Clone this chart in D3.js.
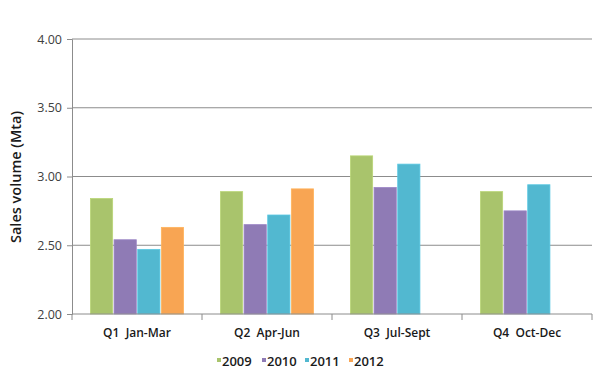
<!DOCTYPE html>
<html>
<head>
<meta charset="utf-8">
<script src="https://cdn.jsdelivr.net/npm/d3@7/dist/d3.min.js"></script>
<style>
  html, body { margin: 0; padding: 0; background: #fff; }
  svg { display: block; font-family: "Open Sans", sans-serif; }
</style>
</head>
<body>
<svg id="chart" width="600" height="392"></svg>
<script>
const categories = ["Q1  Jan-Mar", "Q2  Apr-Jun", "Q3  Jul-Sept", "Q4  Oct-Dec"];
const years = ["2009", "2010", "2011", "2012"];
const values2009 = [2.84, 2.89, 3.15, 2.89];
const values2010 = [2.54, 2.65, 2.92, 2.75];
const values2011 = [2.47, 2.72, 3.09, 2.94];
const values2012 = [2.63, 2.91, null, null];
const yTicks = [2.00, 2.50, 3.00, 3.50, 4.00];
const colors = ["#a9c46c", "#8f7bb5", "#52b8d0", "#f8a553"];

const series = [values2009, values2010, values2011, values2012];

const svg = d3.select("#chart");

const x = d3.scaleBand().domain(categories).range([72, 592]).paddingInner(0).paddingOuter(0);
const x1 = d3.scaleBand().domain(years).range([0, x.bandwidth()]).paddingInner(0.06).paddingOuter(0.78);
const y = d3.scaleLinear().domain([2, 4]).range([314, 39]);

// gridlines
svg.append("g").selectAll("line").data(yTicks.filter(d => d > 2)).join("line")
  .attr("x1", 72).attr("x2", 592)
  .attr("y1", d => y(d)).attr("y2", d => y(d))
  .attr("stroke", "#8c8c8c").attr("stroke-width", 1);

// y axis
const yAxis = d3.axisLeft(y).tickValues(yTicks).tickFormat(d3.format(".2f")).tickSize(5).tickPadding(5);
const gy = svg.append("g").attr("transform", "translate(72,0)").call(yAxis);
gy.select(".domain").attr("stroke", "#8c8c8c");
gy.selectAll(".tick line").attr("stroke", "#8c8c8c");
gy.selectAll(".tick text").attr("fill", "#404040").style("font-size", "12.5px").style("font-family", "'Open Sans', sans-serif");

// bars
const groups = svg.append("g").selectAll("g").data(categories).join("g")
  .attr("transform", d => `translate(${x(d)},0)`);
groups.selectAll("rect")
  .data((c, i) => years.map((yr, j) => ({ yr, v: series[j][i], j })).filter(d => d.v != null))
  .join("rect")
  .attr("x", d => x1(d.yr))
  .attr("width", x1.bandwidth())
  .attr("y", d => y(d.v))
  .attr("height", d => y(2) - y(d.v))
  .attr("fill", d => colors[d.j])
  .attr("stroke", d => d3.color(colors[d.j]).brighter(0.25))
  .attr("stroke-width", 0.8);

// x axis
const xAxis = d3.axisBottom(x).tickSize(0).tickPadding(14);
const gx = svg.append("g").attr("transform", "translate(0,314)").call(xAxis);
gx.select(".domain").attr("stroke", "#8c8c8c").attr("d", "M72,0H592");
gx.selectAll(".tick text").attr("fill", "#1a1a1a").style("font-size", "12px")
  .style("font-weight", "600").style("font-family", "'Open Sans', sans-serif")
  .style("white-space", "pre").attr("xml:space", "preserve");
// separators between categories
svg.append("g").selectAll("line").data(d3.range(categories.length + 1)).join("line")
  .attr("x1", i => 72 + i * x.bandwidth()).attr("x2", i => 72 + i * x.bandwidth())
  .attr("y1", 314).attr("y2", 320)
  .attr("stroke", "#8c8c8c");

// y label
svg.append("text")
  .attr("transform", "translate(21,177) rotate(-90)")
  .attr("text-anchor", "middle")
  .style("font-size", "14.5px").style("font-weight", "600")
  .attr("fill", "#1a1a1a")
  .text("Sales volume (Mta)");

// legend
const legendX = [217, 262, 305, 349];
const lg = svg.append("g").selectAll("g").data(years).join("g")
  .attr("transform", (d, i) => `translate(${legendX[i]},0)`);
lg.append("rect").attr("x", 0).attr("y", 358).attr("width", 4).attr("height", 4)
  .attr("fill", (d, i) => colors[i]);
lg.append("text").attr("x", 5).attr("y", 366)
  .style("font-size", "13px").style("font-weight", "600").attr("fill", "#1a1a1a")
  .text(d => d);
</script>
</body>
</html>
